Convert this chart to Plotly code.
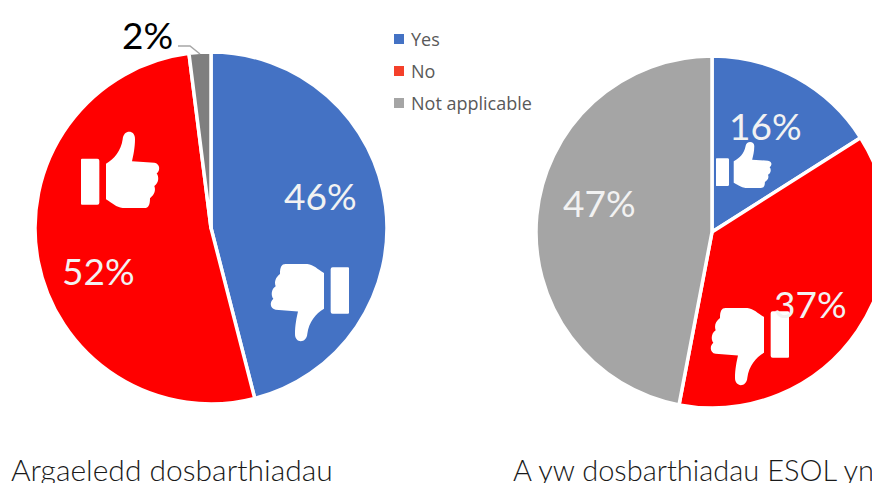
import plotly.graph_objects as go

categories = ["Yes", "No", "Not applicable"]
left_values = [46, 52, 2]
right_values = [16, 37, 47]
left_colors = ["#4472C4", "#FF0000", "#7F7F7F"]
right_colors = ["#4472C4", "#FF0000", "#A5A5A5"]
legend_colors = ["#4472C4", "#F4402A", "#A5A5A5"]
left_title = "Argaeledd dosbarthiadau"
right_title = "A yw dosbarthiadau ESOL yn hygyrch?"

W, H = 900, 500
fx = lambda px: px / W
fy = lambda py: 1 - py / H

THUMB = [("M", 140, 130), ("C", 165, 115, 185, 90, 190, 55), ("C", 192, 25, 228, 25, 227, 55),
         ("C", 227, 80, 222, 105, 218, 122), ("L", 285, 127), ("C", 302, 130, 304, 150, 292, 160),
         ("C", 300, 170, 298, 190, 285, 198), ("C", 290, 212, 285, 225, 272, 235),
         ("C", 272, 255, 268, 265, 255, 265), ("L", 190, 265), ("C", 170, 262, 160, 250, 140, 238), ("Z",)]
CUFF = [("M", 68, 115), ("L", 114, 115), ("Q", 120, 115, 120, 121), ("L", 120, 249), ("Q", 120, 255, 114, 255),
        ("L", 68, 255), ("Q", 65, 255, 65, 252), ("L", 65, 118), ("Q", 65, 115, 68, 115), ("Z",)]


def icon(x0, y0, x1, y1, flip=False):
    def mx(v):
        t = (v - 65) / 237
        if flip:
            t = 1 - t
        return fx(x0 + t * (x1 - x0))

    def my(v):
        t = (v - 33) / 232
        if flip:
            t = 1 - t
        return fy(y0 + t * (y1 - y0))

    out = []
    for seg in THUMB + CUFF:
        c = seg[0]
        nums = seg[1:]
        pts = [f"{mx(nums[i]):.5f},{my(nums[i + 1]):.5f}" for i in range(0, len(nums), 2)]
        out.append(c + " ".join(pts))
    return " ".join(out)


fig = go.Figure()
for vals, cols, dom_x, dom_y in [
    (left_values, left_colors, (35, 387), (52, 404)),
    (right_values, right_colors, (536, 888), (56, 408)),
]:
    fig.add_trace(go.Pie(
        labels=categories, values=vals, sort=False, direction="clockwise", rotation=0,
        marker=dict(colors=cols, line=dict(color="white", width=3.5)),
        textinfo="none", hoverinfo="label+percent", showlegend=False,
        domain=dict(x=[fx(dom_x[0]), fx(dom_x[1])], y=[fy(dom_y[1]), fy(dom_y[0])]),
    ))

shapes = []
for box, flip in [((81, 132, 160, 208), False), ((270, 264, 349, 341), True),
                  ((716, 142, 772, 188), False), ((710, 308, 789, 385), True)]:
    shapes.append(dict(type="path", xref="paper", yref="paper", path=icon(*box, flip),
                       fillcolor="white", line=dict(width=0), layer="above"))
shapes.append(dict(type="path", xref="paper", yref="paper",
                   path=f"M{fx(178)},{fy(46)} L{fx(190)},{fy(46)} L{fx(200)},{fy(54)}",
                   line=dict(color="#A6A6A6", width=1.5)))
for i, c in enumerate(legend_colors):
    yc = 39 + i * 32
    shapes.append(dict(type="rect", xref="paper", yref="paper", x0=fx(394), x1=fx(404),
                       y0=fy(yc + 5), y1=fy(yc - 5), fillcolor=c, line=dict(width=0)))

annotations = []


def label(text, px, py, size, color, anchor="center", family="Lato"):
    annotations.append(dict(text=text, xref="paper", yref="paper", x=fx(px), y=fy(py), showarrow=False,
                            xanchor=anchor, yanchor="middle", font=dict(family=family, size=size, color=color)))


for v, px, py in zip(left_values, [320, 98, 147], [195, 270, 34]):
    label(f"{v}%", px, py, 37, "#F2F2F2" if v != 2 else "black")
for v, px, py in zip(right_values, [765, 810, 599], [125, 303, 202]):
    label(f"{v}%", px, py, 37, "#F2F2F2")
for i, name in enumerate(categories):
    label(name, 409, 39 + i * 32, 18, "#595959", "left", "Open Sans")
label(left_title, 9, 469, 30, "#1A1A1A", "left", "Lato Light, Lato")
label(right_title, 511, 469, 29, "#1A1A1A", "left", "Lato Light, Lato")

fig.update_layout(width=W, height=H, margin=dict(l=0, r=0, t=0, b=0), paper_bgcolor="white",
                  shapes=shapes, annotations=annotations)
fig.write_html("out.html", config=dict(displayModeBar=False),
               post_script="document.documentElement.style.overflow='hidden';document.body.style.overflow='hidden';document.body.style.margin='0';")
